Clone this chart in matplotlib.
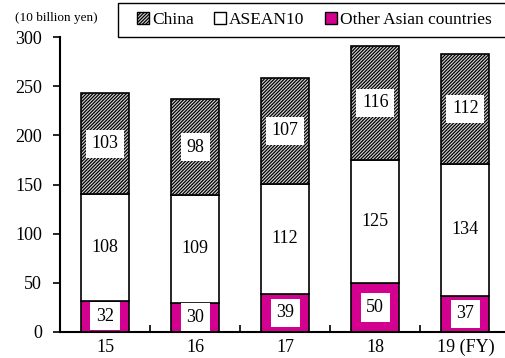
import matplotlib
matplotlib.use('Agg')
from matplotlib import pyplot as plt
from matplotlib.patches import Patch, Rectangle

years = ['15', '16', '17', '18', '19 (FY)']
other_asia = [32, 30, 39, 50, 37]
asean10 = [108, 109, 112, 125, 134]
china = [103, 98, 107, 116, 112]

plt.rcParams['font.family'] = 'Liberation Serif'
plt.rcParams['hatch.color'] = '#4a4a4a'
plt.rcParams['hatch.linewidth'] = 0.9

fig = plt.figure(figsize=(5.05, 3.58), dpi=100)
ax = fig.add_axes([60/505, 26/358, 445/505, 295/358])

x = range(len(years))
w = 0.53
hatch = '/' * 10
b1 = ax.bar(x, other_asia, w, color='#d4008f', edgecolor='black', linewidth=1.2)
b2 = ax.bar(x, asean10, w, bottom=other_asia, color='white', edgecolor='black', linewidth=1.2)
bottom2 = [a + b for a, b in zip(other_asia, asean10)]
b3 = ax.bar(x, china, w, bottom=bottom2, color='#d8d8d8', edgecolor='black', linewidth=1.2, hatch=hatch)

for vals, bots in [(other_asia, [0]*5), (asean10, other_asia), (china, bottom2)]:
    for i, (v, b) in enumerate(zip(vals, bots)):
        ax.text(i, b + v / 2, str(v), ha='center', va='center', fontsize=13,
                bbox=dict(facecolor='white', edgecolor='none', pad=4))

ax.set_xlim(-0.5, 4.44)
ax.set_ylim(0, 300)
ax.set_yticks(range(0, 301, 50))
ax.set_xticks(list(x))
ax.set_xticklabels(years)
ax.set_xticks([0.5, 1.5, 2.5, 3.5], minor=True)
ax.tick_params(axis='x', which='major', length=0, labelsize=13, pad=5)
ax.tick_params(axis='x', which='minor', direction='in', length=5, width=1.2)
ax.tick_params(axis='y', direction='out', length=5, width=1.2, labelsize=13, pad=8)
for s in ['top', 'right']:
    ax.spines[s].set_visible(False)
for s in ['left', 'bottom']:
    ax.spines[s].set_linewidth(1.5)

fig.text(15/505, 1 - 18/358, '(10 billion yen)', fontsize=9.5, va='center')

# legend box drawn separately so it runs off the right edge like the original
fig.patches.append(Rectangle((118/505, 1 - 37/358), 400/505, 34/358, transform=fig.transFigure,
                             facecolor='white', edgecolor='black', linewidth=1.0))
handles = [Patch(facecolor='#d8d8d8', edgecolor='black', hatch=hatch, label='China'),
           Patch(facecolor='white', edgecolor='black', label='ASEAN10'),
           Patch(facecolor='#d4008f', edgecolor='black', label='Other Asian countries')]
fig.legend(handles=handles, loc='center left', bbox_to_anchor=(137/505, 1 - 20/358),
           ncol=3, fontsize=12.5, frameon=False, handlelength=0.7,
           handleheight=0.7, handletextpad=0.15, columnspacing=1.2, borderpad=0,
           borderaxespad=0)

fig.savefig('out.png', dpi=100)
